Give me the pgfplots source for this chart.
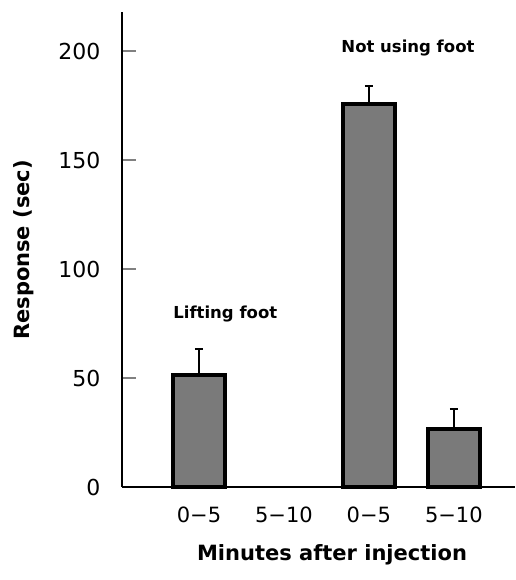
\documentclass[border=0pt]{standalone}
\usepackage{pgfplots}
\pgfplotsset{compat=1.18}
\usepackage{fontspec}
\setmainfont{DejaVu Sans}
\begin{document}
\begin{tikzpicture}[x=1pt,y=1pt]
\path[use as bounding box] (-122,-93) rectangle (393,487);
\begin{axis}[
  at={(0,0)}, anchor=south west,
  scale only axis, width=393pt, height=475pt,
  xmin=-0.906, xmax=3.72, ymin=0, ymax=218,
  axis x line=bottom, axis y line=left,
  axis line style={-, line width=1.6pt},
  xtick={0,1,2,3},
  xticklabels={0−5,5−10,0−5,5−10},
  xtick style={draw=none},
  ytick={0,50,100,150,200},
  ytick style={line width=1.6pt},
  tick align=inside,
  major tick length=14pt,
  /pgf/number format/assume math mode=true,
  yticklabel style={font=\fontsize{22}{26}\selectfont, xshift=-18pt},
  xticklabel style={font=\fontsize{21}{25}\selectfont, yshift=-16pt},
  clip=false,
]
\addplot[ybar, bar width=52pt, fill=black!52, draw=black, line width=4pt,
  error bars/.cd, y dir=plus, y explicit,
  error bar style={line width=2pt, black},
  error mark options={rotate=90, mark size=4pt, line width=2pt}]
  coordinates {(0,51.5) +- (0,12) (2,176) +- (0,8) (3,26.7) +- (0,9.3)};
\node[font=\bfseries\fontsize{16.5}{20}\selectfont] at (axis cs:0.31,79.5) {Lifting foot};
\node[font=\bfseries\fontsize{16.5}{20}\selectfont] at (axis cs:2.46,201.4) {Not using foot};
\end{axis}
\node[rotate=90, font=\bfseries\fontsize{21}{25}\selectfont] at (-98,237) {Response (sec)};
\node[font=\bfseries\fontsize{21}{25}\selectfont] at (210,-68) {Minutes after injection};
\end{tikzpicture}
\end{document}
